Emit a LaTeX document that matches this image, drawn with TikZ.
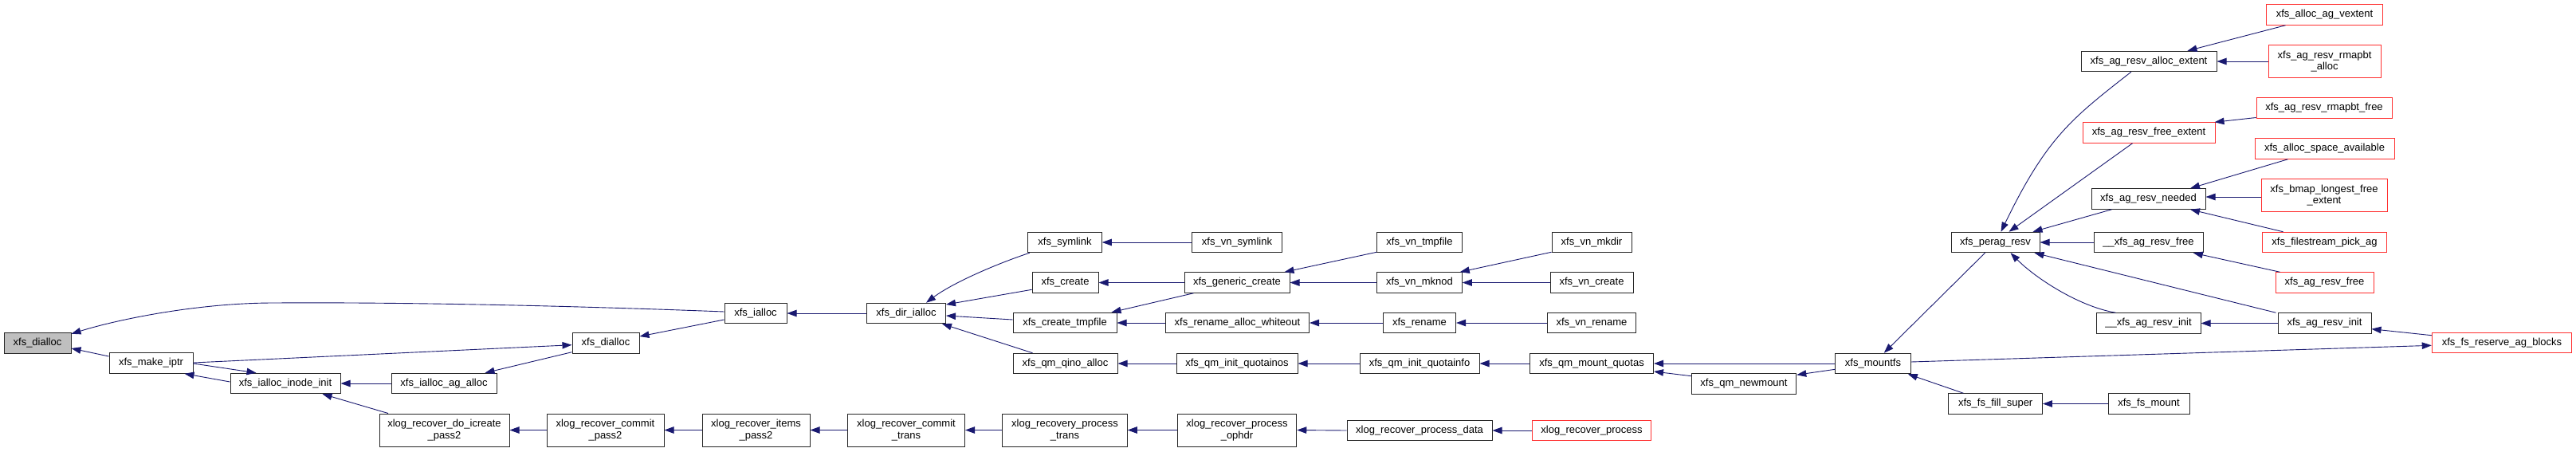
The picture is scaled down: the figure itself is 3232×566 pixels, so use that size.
\documentclass[tikz,border=0pt]{standalone}
\usepackage{fontspec}
\setmainfont{Liberation Sans}
\usetikzlibrary{arrows.meta,calc}
\definecolor{midblue}{HTML}{191970}
\definecolor{nred}{HTML}{FF3030}
\definecolor{ngray}{HTML}{BFBFBF}
\tikzset{
  fn/.style={draw=black!85, line width=1pt, rectangle, inner sep=0pt, align=center,
    font=\fontsize{13}{14.5}\selectfont, text=black, minimum height=25.5pt},
  fnr/.style={fn, draw=nred},
  fn2/.style={minimum height=41pt},
  cg/.style={draw=midblue, line width=0.9pt, -{Triangle[length=12pt,width=8.5pt]}, color=midblue}
}
\begin{document}
\begin{tikzpicture}[x=1pt,y=-1pt]
\fill[white] (0,0) rectangle (3232,566);
\useasboundingbox (0,0) rectangle (3232,566);
% nodes
\node[fn, fill=ngray, minimum width=84pt] (dialA) at (47,430.5) {xfs\_dialloc};
\node[fn, minimum width=105pt] (makeiptr) at (189.5,455.5) {xfs\_make\_iptr};
\node[fn, minimum width=138pt] (iinit) at (358,481) {xfs\_ialloc\_inode\_init};
\node[fn, minimum width=132pt] (iagalloc) at (557,481) {xfs\_ialloc\_ag\_alloc};
\node[fn, fn2, minimum width=163pt] (icreate) at (557.5,539.5) {xlog\_recover\_do\_icreate\\\_pass2};
\node[fn, minimum width=84pt] (dialB) at (760,430.5) {xfs\_dialloc};
\node[fn, fn2, minimum width=147pt] (cpass) at (759.5,539.5) {xlog\_recover\_commit\\\_pass2};
\node[fn, minimum width=78pt] (ialloc) at (948,393) {xfs\_ialloc};
\node[fn, fn2, minimum width=135pt] (ipass) at (948.5,539.5) {xlog\_recover\_items\\\_pass2};
\node[fn, minimum width=99pt] (dirialloc) at (1137,393) {xfs\_dir\_ialloc};
\node[fn, fn2, minimum width=147pt] (ctrans) at (1137,539.5) {xlog\_recover\_commit\\\_trans};
\node[fn, minimum width=92.5pt] (symlink) at (1336,304) {xfs\_symlink};
\node[fn, minimum width=83pt] (create) at (1336.5,354.5) {xfs\_create};
\node[fn, minimum width=130pt] (tmpfile) at (1336,405) {xfs\_create\_tmpfile};
\node[fn, minimum width=131pt] (qino) at (1336.5,456) {xfs\_qm\_qino\_alloc};
\node[fn, fn2, minimum width=156.5pt] (ptrans) at (1336,539.5) {xlog\_recovery\_process\\\_trans};
\node[fn, minimum width=113pt] (vnsymlink) at (1552,304) {xfs\_vn\_symlink};
\node[fn, minimum width=132pt] (generic) at (1552,354.5) {xfs\_generic\_create};
\node[fn, minimum width=180pt] (whiteout) at (1552.5,405) {xfs\_rename\_alloc\_whiteout};
\node[fn, minimum width=152pt] (quotainos) at (1552,456) {xfs\_qm\_init\_quotainos};
\node[fn, fn2, minimum width=149.5pt] (ophdr) at (1552,539.5) {xlog\_recover\_process\\\_ophdr};
\node[fn, minimum width=106.5pt] (vntmpfile) at (1781,304) {xfs\_vn\_tmpfile};
\node[fn, minimum width=106.5pt] (vnmknod) at (1781,354.5) {xfs\_vn\_mknod};
\node[fn, minimum width=91pt] (rename) at (1781,405) {xfs\_rename};
\node[fn, minimum width=150pt] (quotainfo) at (1781,456) {xfs\_qm\_init\_quotainfo};
\node[fn, minimum width=182pt] (pdata) at (1781,540) {xlog\_recover\_process\_data};
\node[fn, minimum width=100pt] (vnmkdir) at (1997,304) {xfs\_vn\_mkdir};
\node[fn, minimum width=104pt] (vncreate) at (1997,354.5) {xfs\_vn\_create};
\node[fn, minimum width=110.5pt] (vnrename) at (1997,405) {xfs\_vn\_rename};
\node[fn, minimum width=155pt] (mquotas) at (1997,456) {xfs\_qm\_mount\_quotas};
\node[fnr, minimum width=149.5pt] (rprocess) at (1997,540) {xlog\_recover\_process};
\node[fn, minimum width=131.5pt] (newmount) at (2188,481.5) {xfs\_qm\_newmount};
\node[fn, minimum width=94.5pt] (mountfs) at (2350,456) {xfs\_mountfs};
\node[fn, minimum width=111pt] (perag) at (2503.5,304) {xfs\_perag\_resv};
\node[fn, minimum width=117.5pt] (fillsuper) at (2503.7,506.5) {xfs\_fs\_fill\_super};
\node[fn, minimum width=170pt] (allocext) at (2696,77) {xfs\_ag\_resv\_alloc\_extent};
\node[fnr, minimum width=166pt] (freeext) at (2696,166.5) {xfs\_ag\_resv\_free\_extent};
\node[fn, minimum width=143pt] (needed) at (2695.5,249.5) {xfs\_ag\_resv\_needed};
\node[fn, minimum width=137pt] (ufree) at (2695.5,304) {\_\_xfs\_ag\_resv\_free};
\node[fn, minimum width=131pt] (uinit) at (2695.5,405.5) {\_\_xfs\_ag\_resv\_init};
\node[fn, minimum width=102pt] (fsmount) at (2696,506.5) {xfs\_fs\_mount};
\node[fnr, minimum width=146pt] (vextent) at (2916.5,18.5) {xfs\_alloc\_ag\_vextent};
\node[fnr, fn2, minimum height=40.5pt, minimum width=141pt] (rmapalloc) at (2916.5,77) {xfs\_ag\_resv\_rmapbt\\\_alloc};
\node[fnr, minimum width=170pt] (rmapfree) at (2916,135.5) {xfs\_ag\_resv\_rmapbt\_free};
\node[fnr, minimum width=175pt] (spaceavail) at (2916.5,186.5) {xfs\_alloc\_space\_available};
\node[fnr, fn2, minimum height=40.5pt, minimum width=158pt] (bmap) at (2916,245) {xfs\_bmap\_longest\_free\\\_extent};
\node[fnr, minimum width=156pt] (filestream) at (2916.5,304) {xfs\_filestream\_pick\_ag};
\node[fnr, minimum width=123pt] (agfree) at (2916.5,354.5) {xfs\_ag\_resv\_free};
\node[fn, minimum width=117pt] (aginit) at (2916.5,405.5) {xfs\_ag\_resv\_init};
\node[fnr, minimum width=175.5pt] (reserve) at (3139,430) {xfs\_fs\_reserve\_ag\_blocks};
% edges
\draw[cg] ($(ialloc.west)+(0,-2)$) .. controls (700,383) and (500,379) .. (343,380) .. controls (250,380) and (150,400) .. ($(dialA.north east)+(0,1.5)$);
\draw[cg] ($(makeiptr.west)+(0,-8.5)$) -- ($(dialA.east)+(0,6.5)$);
\draw[cg] ($(makeiptr.east)+(0,-0.5)$) -- ($(dialB.west)+(0,2.2)$);
\draw[cg] ($(makeiptr.east)+(0,0.5)$) -- ($(iinit.north west)+(33,0)$);
\draw[cg] ($(iinit.west)+(0,-2)$) -- ($(makeiptr.south east)+(-11,0)$);
\draw[cg] (iagalloc.west) -- (iinit.east);
\draw[cg] ($(icreate.north west)+(11.5,0)$) -- ($(iinit.south east)+(-23,0)$);
\draw[cg] ($(dialB.west)+(0,11.2)$) -- ($(iagalloc.north east)+(-15,0)$);
\draw[cg] ($(ialloc.west)+(0,8)$) -- ($(dialB.east)+(0,-8.5)$);
\draw[cg] (dirialloc.west) -- (ialloc.east);
\draw[cg] (cpass.west) -- (icreate.east);
\draw[cg] (ipass.west) -- (cpass.east);
\draw[cg] (ctrans.west) -- (ipass.east);
\draw[cg] (ptrans.west) -- (ctrans.east);
\draw[cg] (ophdr.west) -- (ptrans.east);
\draw[cg] (pdata.west) -- (ophdr.east);
\draw[cg] (rprocess.west) -- (pdata.east);
\draw[cg] ($(symlink.south west)+(2.5,0)$) .. controls (1250,331) and (1195,355) .. ($(dirialloc.north west)+(75,0)$);
\draw[cg] ($(create.west)+(0,8.8)$) -- ($(dirialloc.east)+(0,-11)$);
\draw[cg] ($(tmpfile.west)+(0,-4)$) -- ($(dirialloc.east)+(0,3)$);
\draw[cg] ($(qino.north west)+(25,0)$) -- ($(dirialloc.south east)+(-5,0)$);
\draw[cg] (vnsymlink.west) -- (symlink.east);
\draw[cg] (generic.west) -- (create.east);
\draw[cg] ($(generic.south west)+(12,0)$) -- ($(tmpfile.north east)+(-7,0)$);
\draw[cg] (whiteout.west) -- (tmpfile.east);
\draw[cg] (quotainos.west) -- (qino.east);
\draw[cg] ($(vntmpfile.south west)+(0,-1)$) -- ($(generic.north east)+(-7,0)$);
\draw[cg] (vnmknod.west) -- (generic.east);
\draw[cg] ($(vnmkdir.south west)+(0,-1)$) -- ($(vnmknod.north east)+(-3,0)$);
\draw[cg] (vncreate.west) -- (vnmknod.east);
\draw[cg] (rename.west) -- (whiteout.east);
\draw[cg] (vnrename.west) -- (rename.east);
\draw[cg] (quotainfo.west) -- (quotainos.east);
\draw[cg] (mquotas.west) -- (quotainfo.east);
\draw[cg] (mountfs.west) -- (mquotas.east);
\draw[cg] ($(newmount.west)+(0,-9.8)$) -- ($(mquotas.east)+(0,10)$);
\draw[cg] ($(mountfs.west)+(0,7.3)$) -- ($(newmount.north east)+(0,2)$);
\draw[cg] ($(perag.south west)+(43,0)$) -- ($(mountfs.north west)+(61.5,0)$);
\draw[cg] ($(fillsuper.north west)+(19,0)$) -- ($(mountfs.south east)+(-4,0)$);
\draw[cg] ($(mountfs.east)+(0,-2)$) -- ($(reserve.west)+(0,3.3)$);
\draw[cg] (fsmount.west) -- (fillsuper.east);
\draw[cg] ($(allocext.south west)+(63.3,0)$) .. controls (2600,148) and (2568,172) .. ($(perag.north west)+(63,0)$);
\draw[cg] ($(freeext.south west)+(63,0)$) -- ($(perag.north west)+(73,0)$);
\draw[cg] ($(needed.south west)+(26,0)$) -- ($(perag.north east)+(-9,0)$);
\draw[cg] (ufree.west) -- (perag.east);
\draw[cg] ($(aginit.north west)+(-2,0)$) -- ($(perag.south east)+(-7,0)$);
\draw[cg] ($(uinit.north west)+(25,0)$) .. controls (2610,385) and (2555,350) .. ($(perag.south west)+(75,0)$);
\draw[cg] ($(vextent.south west)+(24.5,0)$) -- ($(allocext.north east)+(-37,0)$);
\draw[cg] (rmapalloc.west) -- (allocext.east);
\draw[cg] ($(rmapfree.west)+(0,12)$) -- ($(freeext.north east)+(-1,0)$);
\draw[cg] ($(spaceavail.south west)+(42,0)$) -- ($(needed.north east)+(-19.5,0)$);
\draw[cg] ($(bmap.west)+(0,2)$) -- ($(needed.east)+(0,-2.5)$);
\draw[cg] ($(filestream.north west)+(26.5,0)$) -- ($(needed.south east)+(-19.5,0)$);
\draw[cg] ($(agfree.north west)+(6,0)$) -- ($(ufree.south east)+(-12.7,0)$);
\draw[cg] (aginit.west) -- (uinit.east);
\draw[cg] ($(reserve.west)+(0,-9.3)$) -- ($(aginit.east)+(0,7.2)$);
\end{tikzpicture}
\end{document}
